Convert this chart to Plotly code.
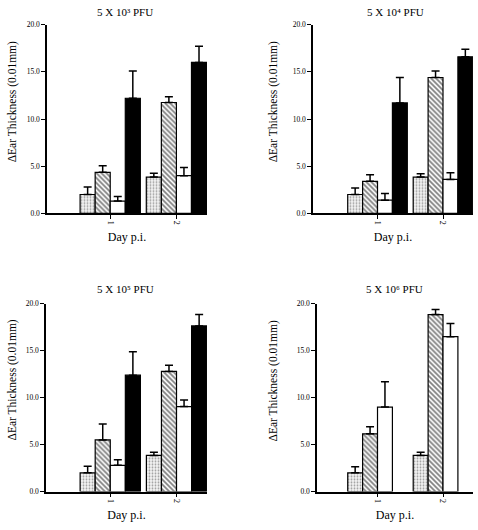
import plotly.graph_objects as go

W, H = 478, 530

days = [1, 2]
x_tick_text = ["1", "2"]
y_tick_vals = [0, 5, 10, 15, 20]
y_tick_text = ["0.0", "5.0", "10.0", "15.0", "20.0"]

panel_titles = ["5 X 10\u00b3 PFU", "5 X 10\u2074 PFU", "5 X 10\u2075 PFU", "5 X 10\u2076 PFU"]

# values per panel: dotted, hatched, white, black (day 1, day 2)
p1_dot = [2.0, 3.85];   p1_dot_err = [0.8, 0.4]
p1_hat = [4.35, 11.75]; p1_hat_err = [0.7, 0.6]
p1_wht = [1.3, 4.0];    p1_wht_err = [0.5, 0.85]
p1_blk = [12.2, 16.0];  p1_blk_err = [2.9, 1.7]

p2_dot = [2.0, 3.85];   p2_dot_err = [0.7, 0.35]
p2_hat = [3.4, 14.4];   p2_hat_err = [0.7, 0.7]
p2_wht = [1.4, 3.6];    p2_wht_err = [0.7, 0.7]
p2_blk = [11.7, 16.6];  p2_blk_err = [2.7, 0.8]

p3_dot = [2.0, 3.85];   p3_dot_err = [0.7, 0.35]
p3_hat = [5.5, 12.8];   p3_hat_err = [1.7, 0.65]
p3_wht = [2.8, 9.05];   p3_wht_err = [0.6, 0.7]
p3_blk = [12.4, 17.65]; p3_blk_err = [2.5, 1.2]

p4_dot = [2.0, 3.85];   p4_dot_err = [0.65, 0.35]
p4_hat = [6.15, 18.85]; p4_hat_err = [0.75, 0.55]
p4_wht = [9.0, 16.5];   p4_wht_err = [2.7, 1.4]
p4_blk = [None, None];  p4_blk_err = [0, 0]

panels = [
    (p1_dot, p1_dot_err, p1_hat, p1_hat_err, p1_wht, p1_wht_err, p1_blk, p1_blk_err),
    (p2_dot, p2_dot_err, p2_hat, p2_hat_err, p2_wht, p2_wht_err, p2_blk, p2_blk_err),
    (p3_dot, p3_dot_err, p3_hat, p3_hat_err, p3_wht, p3_wht_err, p3_blk, p3_blk_err),
    (p4_dot, p4_dot_err, p4_hat, p4_hat_err, p4_wht, p4_wht_err, p4_blk, p4_blk_err),
]

# layout (pixels): x-left, x-right, y-top, y-bottom of plot areas
boxes = [(47, 207, 21, 213), (313, 473, 21, 213), (46, 207, 305, 496), (317, 473, 305, 496)]
xranges = [[0.045, 2.462], [0.015, 2.458], [0.03, 2.46], [0.076, 2.458]]
title_pos = [(125, 8), (395, 8), (125, 290), (394, 290)]
ytitle_pos = [(12, 100), (273, 100), (12, 383), (273, 384)]

SERIF = "Liberation Serif"

styles = [
    dict(color="white", pattern=dict(shape=".", fgcolor="#444", bgcolor="#f4f4f4", size=3, solidity=0.3)),
    dict(color="white", pattern=dict(shape="\\", fgcolor="black", bgcolor="white", size=3.5, solidity=0.5)),
    dict(color="white"),
    dict(color="black"),
]

fig = go.Figure()
for i, pdata in enumerate(panels):
    sfx = "" if i == 0 else str(i + 1)
    for k in range(4):
        vals = pdata[2 * k]
        errs = pdata[2 * k + 1]
        m = dict(styles[k])
        m["line"] = dict(color="black", width=1.2)
        fig.add_trace(go.Bar(
            x=days, y=vals, xaxis="x" + sfx, yaxis="y" + sfx,
            marker=m, showlegend=False,
            error_y=dict(type="data", array=errs, arrayminus=[0] * len(errs),
                         symmetric=False, color="black", thickness=1.5, width=4),
        ))

layout = dict(width=W, height=H, margin=dict(l=0, r=0, t=0, b=0),
              paper_bgcolor="white", plot_bgcolor="white",
              barmode="group", bargap=0.09, bargroupgap=0,
              font=dict(family=SERIF, color="black"))
annotations = []
for i in range(4):
    sfx = "" if i == 0 else str(i + 1)
    x0, x1, y0, y1 = boxes[i]
    layout["xaxis" + sfx] = dict(
        domain=[x0 / W, x1 / W], range=xranges[i], anchor="y" + sfx,
        tickvals=days, ticktext=x_tick_text, tickangle=90,
        ticks="outside", ticklen=4, tickwidth=1, tickcolor="black",
        showline=True, linecolor="black", linewidth=1.5, showgrid=False, zeroline=False,
        tickfont=dict(family=SERIF, size=8, color="black"), fixedrange=True,
        title=dict(text="Day p.i.", standoff=9, font=dict(family=SERIF, size=12, color="black")))
    layout["yaxis" + sfx] = dict(
        domain=[1 - y1 / H, 1 - y0 / H], range=[0, 20], anchor="x" + sfx,
        tickvals=y_tick_vals, ticktext=y_tick_text,
        ticks="outside", ticklen=4, tickwidth=1, tickcolor="black",
        showline=True, linecolor="black", linewidth=1.5, showgrid=False, zeroline=False,
        tickfont=dict(family=SERIF, size=7.5, color="black"), fixedrange=True)
    tx, ty = title_pos[i]
    annotations.append(dict(text=panel_titles[i], x=tx / W, y=1 - ty / H, xref="paper", yref="paper",
                            showarrow=False, font=dict(family=SERIF, size=11, color="black"),
                            xanchor="center", yanchor="middle"))
    yx, yy = ytitle_pos[i]
    annotations.append(dict(text="ΔEar Thickness (0.01mm)", x=yx / W, y=1 - yy / H, xref="paper", yref="paper",
                            showarrow=False, textangle=-90, font=dict(family=SERIF, size=11.5, color="black"),
                            xanchor="center", yanchor="middle"))
layout["annotations"] = annotations
fig.update_layout(**layout)
fig.write_html("out.html", config={"displayModeBar": False})
